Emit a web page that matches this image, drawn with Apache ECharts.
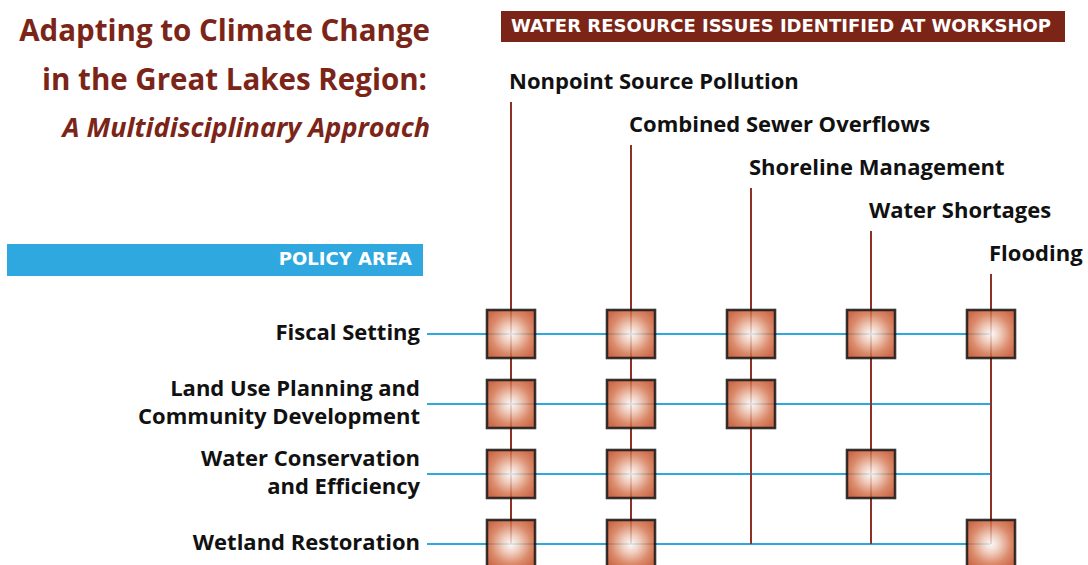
<!DOCTYPE html>
<html>
<head>
<meta charset="utf-8">
<title>Adapting to Climate Change in the Great Lakes Region</title>
<script src="https://cdn.jsdelivr.net/npm/echarts@6/dist/echarts.min.js"></script>
<style>
  html, body { margin: 0; padding: 0; background: #fff; }
  #chart { width: 1088px; height: 565px; }
</style>
</head>
<body>
<div id="chart"></div>
<script>
const issues = [
  'Nonpoint Source Pollution',
  'Combined Sewer Overflows',
  'Shoreline Management',
  'Water Shortages',
  'Flooding'
];
const policyAreas = [
  'Fiscal Setting',
  'Land Use Planning and\nCommunity Development',
  'Water Conservation\nand Efficiency',
  'Wetland Restoration'
];
// 1 = the issue was linked to this policy area at the workshop
const fiscalSetting = [1, 1, 1, 1, 1];
const landUsePlanning = [1, 1, 1, 0, 0];
const waterConservation = [1, 1, 0, 1, 0];
const wetlandRestoration = [1, 1, 0, 0, 1];

const titleLines = [
  'Adapting to Climate Change',
  'in the Great Lakes Region:',
  'A Multidisciplinary Approach'
];
const issuesHeader = 'WATER RESOURCE ISSUES IDENTIFIED AT WORKSHOP';
const policyHeader = 'POLICY AREA';

const matrix = [fiscalSetting, landUsePlanning, waterConservation, wetlandRestoration];
const links = [];
matrix.forEach((row, r) => {
  row.forEach((v, c) => {
    if (v) links.push([c, r]);
  });
});

const RED = '#7b2519';
const LINE_RED = '#8c3227';
const BLUE = '#2fa8df';
const FONT = '"Open Sans", "Noto Sans", sans-serif';
const BANNER_FONT = '"DejaVu Sans", "Open Sans", sans-serif';
const lastRow = policyAreas.length - 1;
const lastCol = issues.length - 1;
const rowStart = -0.7; // where the blue lines begin, in column units

const chart = echarts.init(document.getElementById('chart'), null, { renderer: 'svg' });

chart.setOption({
  animation: false,
  grid: { left: 427, top: 54, width: 624, height: 511 },
  xAxis: { type: 'value', min: rowStart, max: 4.5, show: false },
  yAxis: { type: 'value', min: -4, max: 3.3, inverse: true, show: false },
  graphic: [
    {
      type: 'text', right: 658, top: 14,
      style: { text: titleLines[0], font: 'bold 29.5px ' + FONT, fill: RED }
    },
    {
      type: 'text', right: 661, top: 63,
      style: { text: titleLines[1], font: 'bold 29.5px ' + FONT, fill: RED }
    },
    {
      type: 'text', right: 658, top: 113,
      style: { text: titleLines[2], font: 'italic bold 27px ' + FONT, fill: RED }
    },
    {
      type: 'rect', left: 501, top: 11,
      shape: { width: 564, height: 31 },
      style: { fill: RED }
    },
    {
      type: 'text', left: 511, top: 16,
      style: { text: issuesHeader, font: 'bold 18px ' + BANNER_FONT, fill: '#fff' }
    },
    {
      type: 'rect', left: 7, top: 244,
      shape: { width: 416, height: 32 },
      style: { fill: BLUE }
    },
    {
      type: 'text', right: 676, top: 249,
      style: { text: policyHeader, font: 'bold 18px ' + BANNER_FONT, fill: '#fff' }
    }
  ],
  series: [
    {
      // policy area rows: blue line + label
      type: 'custom',
      z: 1,
      data: policyAreas.map((name, i) => [lastCol, i]),
      renderItem: (params, api) => {
        const r = api.value(1);
        const start = api.coord([rowStart, r]);
        const end = api.coord([lastCol, r]);
        return {
          type: 'group',
          children: [
            {
              type: 'line',
              shape: { x1: start[0], y1: start[1], x2: end[0], y2: end[1] },
              style: { stroke: BLUE, lineWidth: 2 }
            },
            {
              type: 'text',
              x: start[0] - 7,
              y: start[1] - 3,
              style: {
                text: policyAreas[r],
                align: 'right',
                verticalAlign: 'middle',
                font: 'bold 22px ' + FONT,
                lineHeight: 28,
                fill: '#111'
              }
            }
          ]
        };
      }
    },
    {
      // water resource issue columns: red line + staggered label
      type: 'custom',
      z: 2,
      data: issues.map((name, i) => [i, lastRow]),
      renderItem: (params, api) => {
        const c = api.value(0);
        const bottom = api.coord([c, lastRow]);
        const labelY = 80 + 43 * c;
        return {
          type: 'group',
          children: [
            {
              type: 'line',
              shape: { x1: bottom[0], y1: labelY + 22, x2: bottom[0], y2: bottom[1] },
              style: { stroke: LINE_RED, lineWidth: 2 }
            },
            {
              type: 'text',
              x: bottom[0] - 2,
              y: labelY,
              style: {
                text: issues[c],
                align: 'left',
                verticalAlign: 'middle',
                font: 'bold 22px ' + FONT,
                fill: '#111'
              }
            }
          ]
        };
      }
    },
    {
      type: 'scatter',
      z: 3,
      symbol: 'rect',
      symbolSize: 48,
      data: links,
      itemStyle: {
        color: {
          type: 'radial', x: 0.5, y: 0.5, r: 0.6,
          colorStops: [
            { offset: 0, color: '#ffffff' },
            { offset: 0.3, color: '#f3cbb9' },
            { offset: 0.7, color: '#d8764f' },
            { offset: 1, color: '#c6512a' }
          ]
        },
        borderColor: '#111',
        borderWidth: 2.5,
        shadowBlur: 1,
        shadowColor: 'rgba(0,0,0,0.25)'
      },
      emphasis: { disabled: true }
    }
  ]
});
</script>
</body>
</html>
